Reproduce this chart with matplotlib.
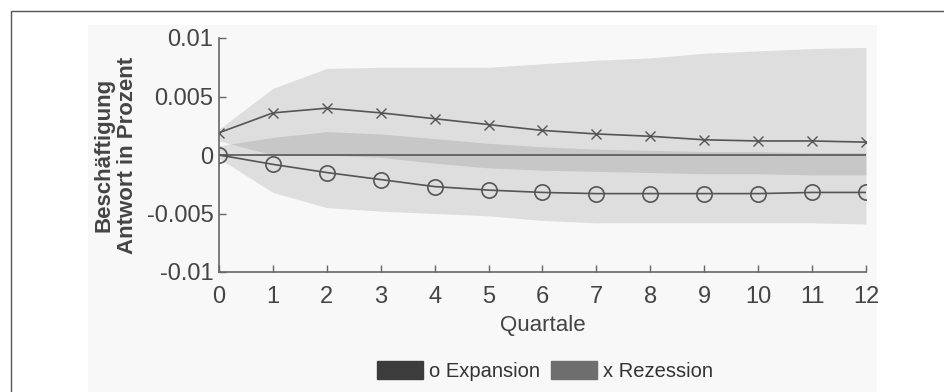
import matplotlib
matplotlib.use("Agg")
import matplotlib.pyplot as plt
from matplotlib.patches import Patch, Rectangle
import numpy as np

plt.rcParams["font.family"] = ["Liberation Sans", "DejaVu Sans"]

quartale = list(range(13))

# Impulsantworten (Punktschaetzer)
expansion = [0.0, -0.0008, -0.0015, -0.0021, -0.0027, -0.0030, -0.0032,
             -0.0033, -0.0033, -0.0033, -0.0033, -0.0032, -0.0032]
rezession = [0.0019, 0.0036, 0.0040, 0.0036, 0.0031, 0.0026, 0.0021,
             0.0018, 0.0016, 0.0013, 0.0012, 0.0012, 0.0011]

# Konfidenzbaender
exp_upper = [0.0008, 0.0015, 0.0020, 0.0018, 0.0014, 0.0010, 0.0007,
             0.0005, 0.0004, 0.0003, 0.0003, 0.0002, 0.0002]
exp_lower = [-0.0003, -0.0032, -0.0045, -0.0048, -0.0050, -0.0052, -0.0056,
             -0.0058, -0.0058, -0.0058, -0.0058, -0.0058, -0.0059]
rez_upper = [0.0022, 0.0057, 0.0074, 0.0075, 0.0075, 0.0075, 0.0078,
             0.0081, 0.0083, 0.0087, 0.0089, 0.0091, 0.0092]
rez_lower = [0.0012, 0.0000, 0.0000, -0.0002, -0.0007, -0.0011, -0.0013,
             -0.0014, -0.0015, -0.0016, -0.0016, -0.0017, -0.0017]

y_ticks = [-0.01, -0.005, 0, 0.005, 0.01]
y_labels = ["-0.01", "-0.005", "0", "0.005", "0.01"]

line_col = "#555555"
text_col = "#444444"

fig = plt.figure(figsize=(9.45, 3.92), dpi=100)
W, H = 945, 392

# scan background and frame
fig.patches.append(Rectangle((88 / W, 0), (877 - 88) / W, 1 - 25 / H,
                             transform=fig.transFigure, facecolor="#f8f8f8",
                             edgecolor="none", zorder=-10))
fig.patches.append(Rectangle((11 / W, -0.1), 1.1, 1.1 - 11 / H,
                             transform=fig.transFigure, facecolor="none",
                             edgecolor="#555555", lw=1.0, zorder=-9))

ax = fig.add_axes([219 / W, 1 - 272 / H, (866 - 219) / W, (272 - 38) / H])
ax.set_facecolor("none")

x = np.array(quartale)
ax.fill_between(x, exp_lower, exp_upper, color="black", alpha=0.10, lw=0)
ax.fill_between(x, rez_lower, rez_upper, color="black", alpha=0.10, lw=0)

ax.plot([x[0], x[-1]], [0, 0], color=line_col, lw=1.2)
ax.plot(x, expansion, color=line_col, lw=1.2, marker="o", ms=11,
        mfc="none", mec=line_col, mew=1.2)
ax.plot(x, rezession, color=line_col, lw=1.2, marker="x", ms=6.5,
        mec=line_col, mew=1.0)

ax.set_xlim(0, 12)
ax.set_ylim(-0.01, 0.01)
ax.set_xticks(quartale)
ax.set_yticks(y_ticks)
ax.set_yticklabels(y_labels)

for side in ("top", "right"):
    ax.spines[side].set_visible(False)
for side in ("left", "bottom"):
    ax.spines[side].set_color("#666666")
    ax.spines[side].set_linewidth(1.2)

ax.tick_params(axis="both", direction="in", length=5, width=1.0,
               color="#666666", labelcolor=text_col, labelsize=17)
ax.tick_params(axis="x", pad=10)
ax.tick_params(axis="y", pad=4)

ax.set_xlabel("Quartale", fontsize=16, color=text_col, labelpad=5)
ax.set_ylabel("Beschäftigung\nAntwort in Prozent", fontsize=16,
              fontweight="bold", color=text_col, labelpad=6, linespacing=1.2)

handles = [Patch(facecolor="#3c3c3c", edgecolor="#3c3c3c", label="o Expansion"),
           Patch(facecolor="#6e6e6e", edgecolor="#6e6e6e", label="x Rezession")]
leg = fig.legend(handles=handles, loc="center", bbox_to_anchor=(545 / W, 1 - 371 / H),
                 ncol=2, frameon=False, fontsize=14.5, handlelength=2.3,
                 handleheight=1.0, handletextpad=0.3, columnspacing=0.5)
for t in leg.get_texts():
    t.set_color("#333333")

fig.savefig("out.png", dpi=100)
